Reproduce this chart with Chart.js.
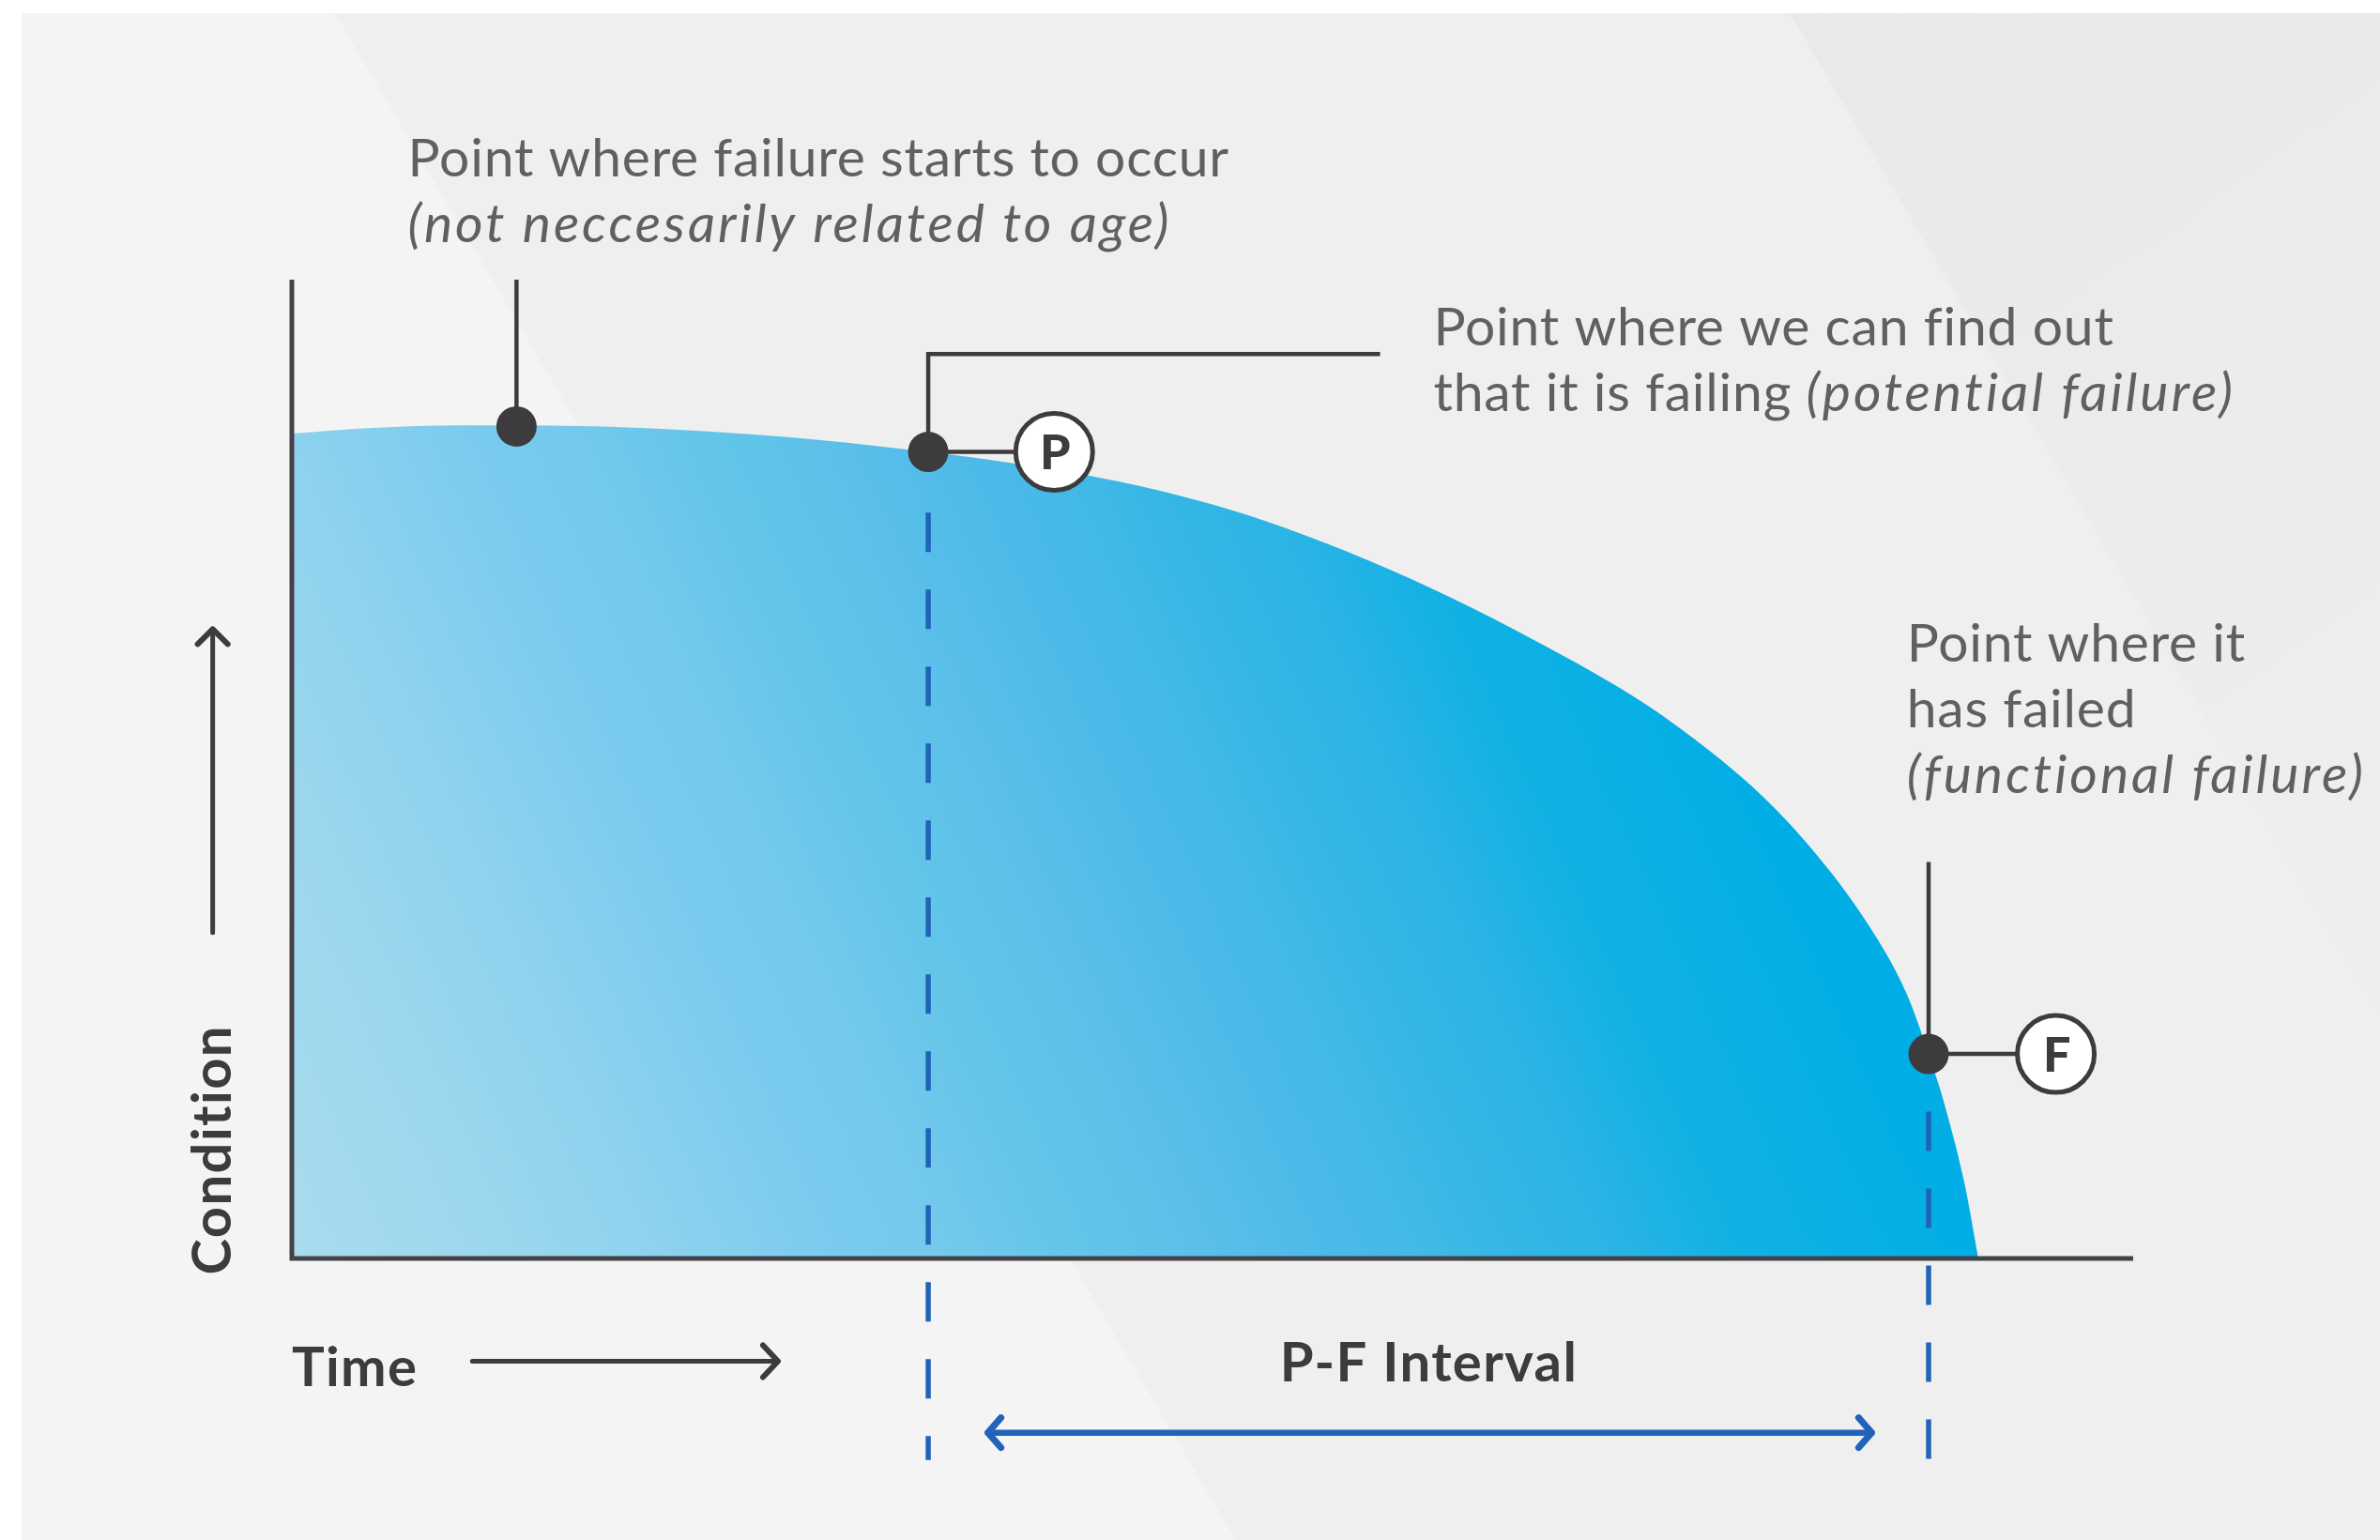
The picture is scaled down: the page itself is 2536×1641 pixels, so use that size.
<!DOCTYPE html>
<html>
<head>
<meta charset="utf-8">
<script src="https://cdn.jsdelivr.net/npm/chart.js@4.4.1/dist/chart.umd.min.js"></script>
<style>
  html, body { margin: 0; padding: 0; background: #fff; overflow: hidden; }
</style>
</head>
<body>
<canvas id="pf" width="2536" height="1641"></canvas>
<script>
// P-F curve: asset condition against time (both axes 0..100, unitless)
const timeVals      = [0,     4.33,  9.17,  15.70, 22.17, 28.70, 34.56, 38.43, 44.95, 49.90, 53.87, 58.41,
                       62.94, 67.53, 72.07, 75.03, 79.26, 82.42, 85.58, 87.72, 88.89, 89.81, 90.88, 91.59];
const conditionVals = [84.28, 84.85, 85.11, 85.04, 84.53, 83.61, 82.40, 81.45, 79.36, 77.08, 74.68, 71.35,
                       67.51, 63.11, 58.33, 54.66, 48.29, 42.11, 34.20, 26.95, 20.89, 15.37, 7.32,  0];

// marked points on the curve: failure starts, P (potential failure), F (functional failure)
const eventTimes      = [12.2, 34.56, 88.89];
const eventConditions = [85.0, 82.40, 20.89];
const badgeLetters    = ["P", "F"];
const badgeTimes      = [41.4, 95.8];

// leader line ends (condition values)
const startLeaderTop = 100;
const pLeaderTop = 92.4, pLeaderEnd = 59.1;
const fLeaderTop = 40.5;

// texts, each line is a list of [text, italic]
const startNote = [[["Point where failure starts to occur", false]],
                   [["(not neccesarily related to age)", true]]];
const pNote = [[["Point where we can find out", false]],
               [["that it is failing ", false], ["(potential failure)", true]]];
const fNote = [[["Point where it", false]],
               [["has failed", false]],
               [["(functional failure)", true]]];
const xLabel = "Time";
const yLabel = "Condition";
const intervalLabel = "P-F Interval";

const DARK = "#3d3b3e";
const BLUE = "#2163b8";
const TEXT = "#606060";

const curve = timeVals.map((t, i) => ({ x: t, y: conditionVals[i] }));
const events = eventTimes.map((t, i) => ({ x: t, y: eventConditions[i] }));
const badges = badgeTimes.map((t, i) => ({ x: t, y: eventConditions[i + 1] }));

function seg(points) {
  return {
    data: points, showLine: true, borderColor: DARK, borderWidth: 4.5,
    pointRadius: 0, fill: false, clip: false, order: 2
  };
}

function dashed(points) {
  return {
    data: points, showLine: true, borderColor: BLUE, borderWidth: 5.5,
    borderDash: [42, 40], pointRadius: 0, fill: false, clip: false, order: 3
  };
}

// blue fill, lighter at bottom left, stronger towards the right, slightly banded
function curveFill(context) {
  const chart = context.chart;
  if (!chart.chartArea) return "#5ec4e9";
  const x = chart.scales.x, y = chart.scales.y;
  const ax = x.getPixelForValue(0), ay = y.getPixelForValue(0);
  const g = chart.ctx.createLinearGradient(ax, ay, ax + 1900 * 0.912, ay - 1900 * 0.41);
  g.addColorStop(0, "#aadbee");
  g.addColorStop(0.10, "#9dd7ee");
  g.addColorStop(0.16, "#93d4ee");
  g.addColorStop(0.22, "#87d0ee");
  g.addColorStop(0.28, "#7acbee");
  g.addColorStop(0.34, "#73c9ec");
  g.addColorStop(0.40, "#63c5e9");
  g.addColorStop(0.46, "#5cc0ea");
  g.addColorStop(0.52, "#4fbbe9");
  g.addColorStop(0.58, "#42b9e6");
  g.addColorStop(0.63, "#33b6e4");
  g.addColorStop(0.68, "#2ab4e5");
  g.addColorStop(0.74, "#12b1e4");
  g.addColorStop(0.86, "#00aee5");
  g.addColorStop(1, "#00ace4");
  return g;
}

function drawLines(ctx, x, y0, lh, lines, size, color) {
  ctx.fillStyle = color;
  ctx.textBaseline = "alphabetic";
  ctx.textAlign = "left";
  lines.forEach((line, i) => {
    let cx = x;
    line.forEach(([txt, it]) => {
      ctx.font = (it ? "italic " : "") + "400 " + size + "px Lato";
      ctx.letterSpacing = it ? "3px" : "0.8px";
      ctx.fillText(txt, cx, y0 + i * lh);
      cx += ctx.measureText(txt).width;
    });
  });
  ctx.letterSpacing = "0px";
}

function chevron(ctx, x, y, dir, len, half) {
  ctx.beginPath();
  ctx.moveTo(x - dir * len, y - half);
  ctx.lineTo(x, y);
  ctx.lineTo(x - dir * len, y + half);
  ctx.stroke();
}

const pfDecor = {
  id: "pfDecor",
  beforeDraw(chart) {
    const { ctx, width, height } = chart;
    ctx.save();
    ctx.fillStyle = "#ffffff";
    ctx.fillRect(0, 0, width, height);
    ctx.fillStyle = "#efefef";
    ctx.fillRect(23, 14, width - 23, height - 14);
    // lighter wedge on the left
    ctx.fillStyle = "#f4f4f4";
    ctx.beginPath();
    ctx.moveTo(23, 14); ctx.lineTo(357, 14);
    ctx.lineTo(357 + 0.59 * (height - 14), height); ctx.lineTo(23, height);
    ctx.closePath(); ctx.fill();
    // darker wedge on the right
    const g = ctx.createLinearGradient(1900, 0, 2536, 900);
    g.addColorStop(0, "#e9e9e9");
    g.addColorStop(1, "#eeeeee");
    ctx.fillStyle = g;
    ctx.beginPath();
    ctx.moveTo(1907, 14); ctx.lineTo(width, 14);
    ctx.lineTo(width, height); ctx.lineTo(1907 + 0.59 * (height - 14), height);
    ctx.closePath(); ctx.fill();
    ctx.restore();
  },
  afterDatasetsDraw(chart) {
    const { ctx } = chart;
    const x = chart.scales.x, y = chart.scales.y;
    const x0 = x.getPixelForValue(0), y0 = y.getPixelForValue(0);
    ctx.save();
    // axes
    ctx.strokeStyle = "#444247";
    ctx.lineWidth = 5;
    ctx.beginPath();
    ctx.moveTo(x0, y.getPixelForValue(100));
    ctx.lineTo(x0, y0);
    ctx.lineTo(x.getPixelForValue(100), y0);
    ctx.stroke();
    ctx.restore();
  },
  afterDraw(chart) {
    const { ctx } = chart;
    const x = chart.scales.x, y = chart.scales.y;
    const px = v => x.getPixelForValue(v), py = v => y.getPixelForValue(v);
    ctx.save();

    // badge letters
    ctx.fillStyle = DARK;
    ctx.font = "900 52px Lato";
    ctx.textAlign = "center";
    ctx.textBaseline = "middle";
    badges.forEach((b, i) => ctx.fillText(badgeLetters[i], px(b.x) + 1, py(b.y) + 2));

    // notes
    drawLines(ctx, px(6.3), py(110.5), 70, startNote, 57, TEXT);
    drawLines(ctx, px(62.0), py(93.3), 70, pNote, 57, TEXT);
    drawLines(ctx, px(87.7), py(61.0), 70, fNote, 57, TEXT);

    // axis names
    ctx.fillStyle = DARK;
    ctx.font = "700 58px Lato";
    ctx.letterSpacing = "1.4px";
    ctx.textBaseline = "alphabetic";
    ctx.textAlign = "left";
    ctx.fillText(xLabel, px(0), py(-13.0));
    ctx.textAlign = "center";
    ctx.fillText(intervalLabel, px(61.75), py(-12.6));
    ctx.save();
    ctx.translate(px(-3.3), py(11.1));
    ctx.rotate(-Math.PI / 2);
    ctx.fillText(yLabel, 0, 0);
    ctx.restore();
    ctx.letterSpacing = "0px";

    // arrows
    ctx.lineCap = "round";
    ctx.lineJoin = "round";
    ctx.strokeStyle = DARK;
    ctx.lineWidth = 5;
    ctx.beginPath();
    ctx.moveTo(px(9.8), py(-10.5)); ctx.lineTo(px(26.4), py(-10.5));
    ctx.moveTo(px(-4.3), py(33.3)); ctx.lineTo(px(-4.3), py(64.3));
    ctx.stroke();
    ctx.lineWidth = 6;
    chevron(ctx, px(26.4), py(-10.5), 1, 16, 17);
    ctx.save();
    ctx.translate(px(-4.3), py(64.3));
    ctx.rotate(-Math.PI / 2);
    chevron(ctx, 0, 0, 1, 16, 16);
    ctx.restore();

    ctx.strokeStyle = BLUE;
    ctx.lineWidth = 6.5;
    ctx.beginPath();
    ctx.moveTo(px(37.8), py(-17.8)); ctx.lineTo(px(85.8), py(-17.8));
    ctx.stroke();
    ctx.lineWidth = 7;
    chevron(ctx, px(37.8), py(-17.8), -1, 14, 16);
    chevron(ctx, px(85.8), py(-17.8), 1, 14, 16);
    ctx.restore();
  }
};

new Chart(document.getElementById("pf"), {
  type: "scatter",
  data: {
    datasets: [
      { data: events, pointRadius: 21.5, pointBackgroundColor: DARK, pointBorderWidth: 0, showLine: false, clip: false, order: 0 },
      { data: badges, pointRadius: 41, pointBackgroundColor: "#ffffff", pointBorderColor: DARK, pointBorderWidth: 5, showLine: false, clip: false, order: 1 },
      seg([{ x: eventTimes[0], y: eventConditions[0] }, { x: eventTimes[0], y: startLeaderTop }]),
      seg([{ x: eventTimes[1], y: eventConditions[1] }, { x: eventTimes[1], y: pLeaderTop }, { x: pLeaderEnd, y: pLeaderTop }]),
      seg([{ x: eventTimes[2], y: eventConditions[2] }, { x: eventTimes[2], y: fLeaderTop }]),
      seg([events[1], badges[0]]),
      seg([events[2], badges[1]]),
      dashed([{ x: eventTimes[1], y: 76.2 }, { x: eventTimes[1], y: -20.6 }]),
      dashed([{ x: eventTimes[2], y: 15.0 }, { x: eventTimes[2], y: -20.6 }]),
      {
        data: curve, showLine: true, fill: "origin", backgroundColor: curveFill,
        borderWidth: 0, borderColor: "rgba(0,0,0,0)", pointRadius: 0,
        cubicInterpolationMode: "monotone", order: 9
      }
    ]
  },
  options: {
    responsive: false,
    animation: false,
    events: [],
    layout: { padding: { left: 311, top: 298, right: 263, bottom: 300 } },
    plugins: { legend: { display: false }, tooltip: { enabled: false } },
    scales: {
      x: { type: "linear", min: 0, max: 100, display: false },
      y: { type: "linear", min: 0, max: 100, display: false }
    }
  },
  plugins: [pfDecor]
});
</script>
</body>
</html>
